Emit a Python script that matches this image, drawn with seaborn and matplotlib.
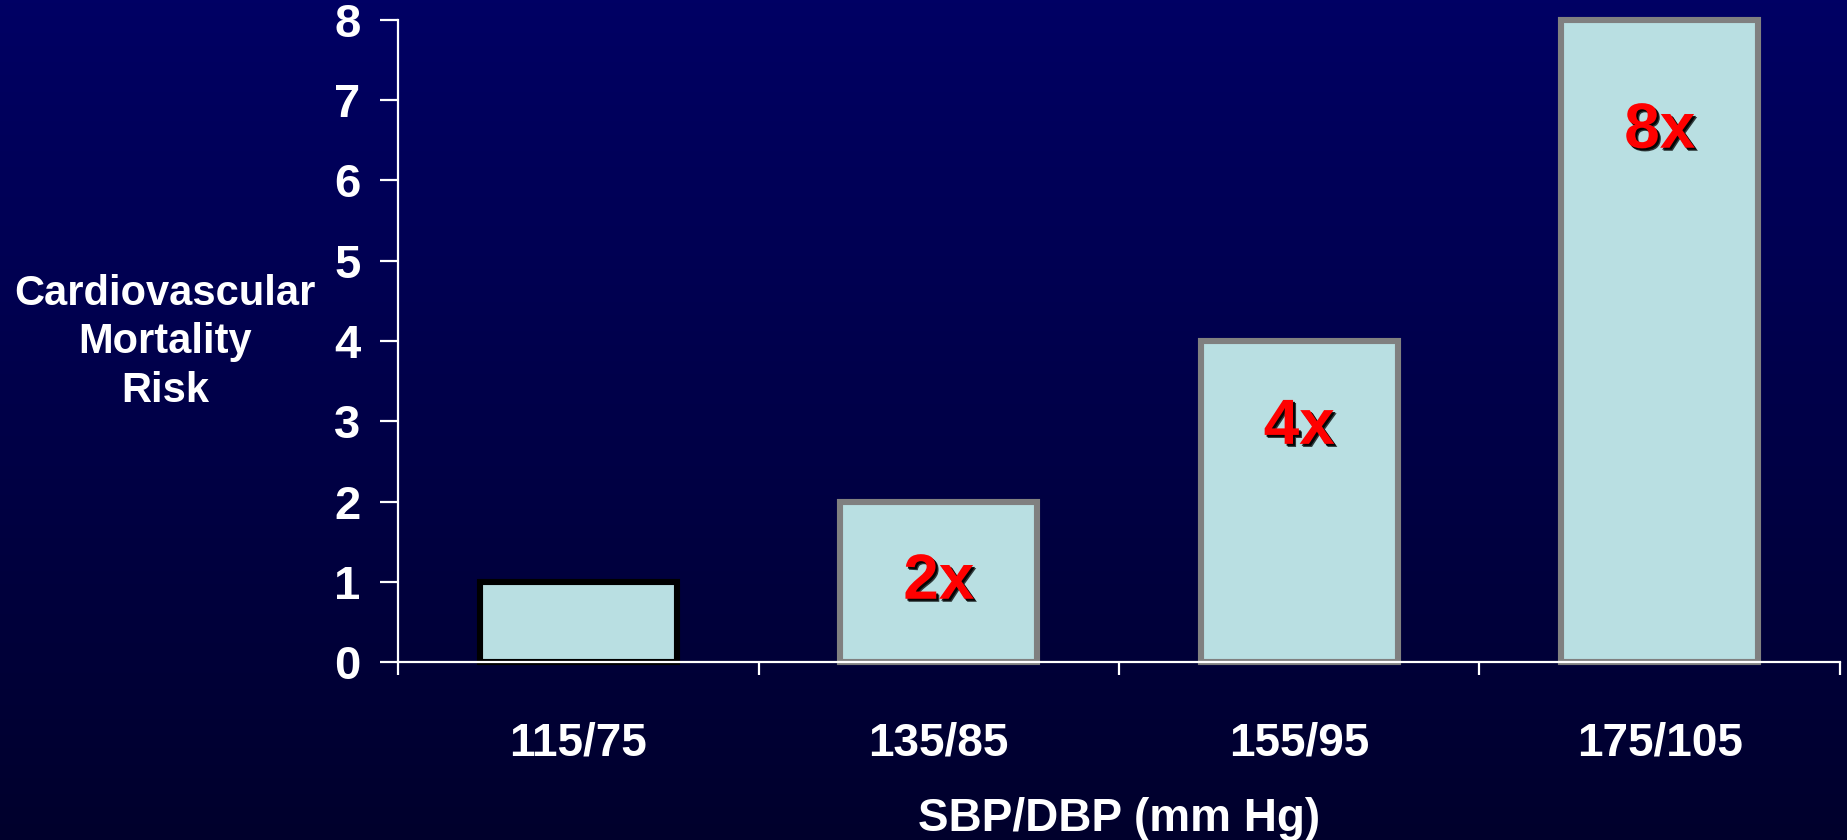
import numpy as np
import matplotlib
matplotlib.use("Agg")
import matplotlib.pyplot as plt
import matplotlib.patheffects as pe
from matplotlib.colors import to_rgb
import seaborn as sns

# Data
categories = ["115/75", "135/85", "155/95", "175/105"]
risk = [1, 2, 4, 8]
x_title = "SBP/DBP (mm Hg)"
y_title = "Cardiovascular\nMortality\nRisk"

# Styling
bar_fill = "#B9DFE2"
bar_edges = ["#000000", "#808080", "#808080", "#808080"]
label_y = [None, 1.0, 2.93, 6.62]   # vertical placement of the multiplier labels
bg_top, bg_bottom = "#000064", "#00002C"

sns.set_theme(style="ticks")
plt.rcParams["font.family"] = ["Liberation Sans", "DejaVu Sans"]
plt.rcParams["font.weight"] = "bold"

fig = plt.figure(figsize=(18.47, 8.4), dpi=100)

# Vertical navy gradient behind everything
bg = fig.add_axes([0, 0, 1, 1], zorder=-10)
t = np.linspace(0, 1, 256)[:, None]
c0, c1 = np.array(to_rgb(bg_top)), np.array(to_rgb(bg_bottom))
grad = (c0[None, None, :] * (1 - t[..., None]) + c1[None, None, :] * t[..., None])
grad = np.repeat(grad, 2, axis=1)
bg.imshow(grad, aspect="auto", extent=[0, 1, 0, 1])
bg.set_axis_off()

ax = fig.add_axes([0.2155, 0.2119, 0.7807, 0.7643])
ax.set_facecolor("none")

sns.barplot(x=categories, y=risk, color=bar_fill, saturation=1, width=0.546,
            ax=ax, linewidth=4.4, edgecolor="#808080", zorder=2)
for patch, ec in zip(ax.patches, bar_edges):
    patch.set_edgecolor(ec)
    patch.set_linewidth(4.4)
    patch.set_joinstyle("miter")
    patch.set_clip_on(False)

ax.set_xlim(-0.5, 3.5)
ax.set_ylim(0, 8)
ax.set_yticks(range(9))

# Multiplier labels relative to the lowest-pressure group
for i, (v, ly) in enumerate(zip(risk, label_y)):
    if ly is None:
        continue
    ax.text(i, ly, f"{v / risk[0]:g}x", ha="center", va="center",
            color="#FF0000", fontsize=46, fontweight="bold", zorder=4,
            path_effects=[pe.SimplePatchShadow(offset=(2.2, -2.2),
                                               shadow_rgbFace="black", alpha=0.75),
                          pe.SimplePatchShadow(offset=(1.4, -1.4),
                                               shadow_rgbFace="black", alpha=0.9),
                          pe.Normal()])

# Axes styling
for side in ("top", "right"):
    ax.spines[side].set_visible(False)
for side in ("left", "bottom"):
    ax.spines[side].set_color("white")
    ax.spines[side].set_linewidth(1.6)
    ax.spines[side].set_zorder(5)

ax.tick_params(axis="y", colors="white", labelcolor="white", length=13,
               width=1.6, direction="out", pad=14, labelsize=34)
ax.set_xticks(range(len(categories)))
ax.set_xticklabels(categories)
ax.set_xticks(np.arange(-0.5, len(categories)), minor=True)
ax.tick_params(axis="x", which="major", length=0, pad=43, labelsize=33,
               labelcolor="white")
ax.tick_params(axis="x", which="minor", length=9.5, width=1.6, color="white",
               direction="out")
for lab in ax.get_xticklabels() + ax.get_yticklabels():
    lab.set_fontweight("bold")

ax.set_xlabel(x_title, fontsize=33, fontweight="bold", color="white", va="center")
ax.xaxis.set_label_coords(0.5, -0.244)
ax.set_ylabel(y_title, fontsize=30, fontweight="bold", color="white",
              rotation=0, ha="center", va="center", multialignment="center",
              linespacing=1.28)
ax.yaxis.set_label_coords(-0.1616, 0.498)

fig.savefig("out.png", dpi=100)
